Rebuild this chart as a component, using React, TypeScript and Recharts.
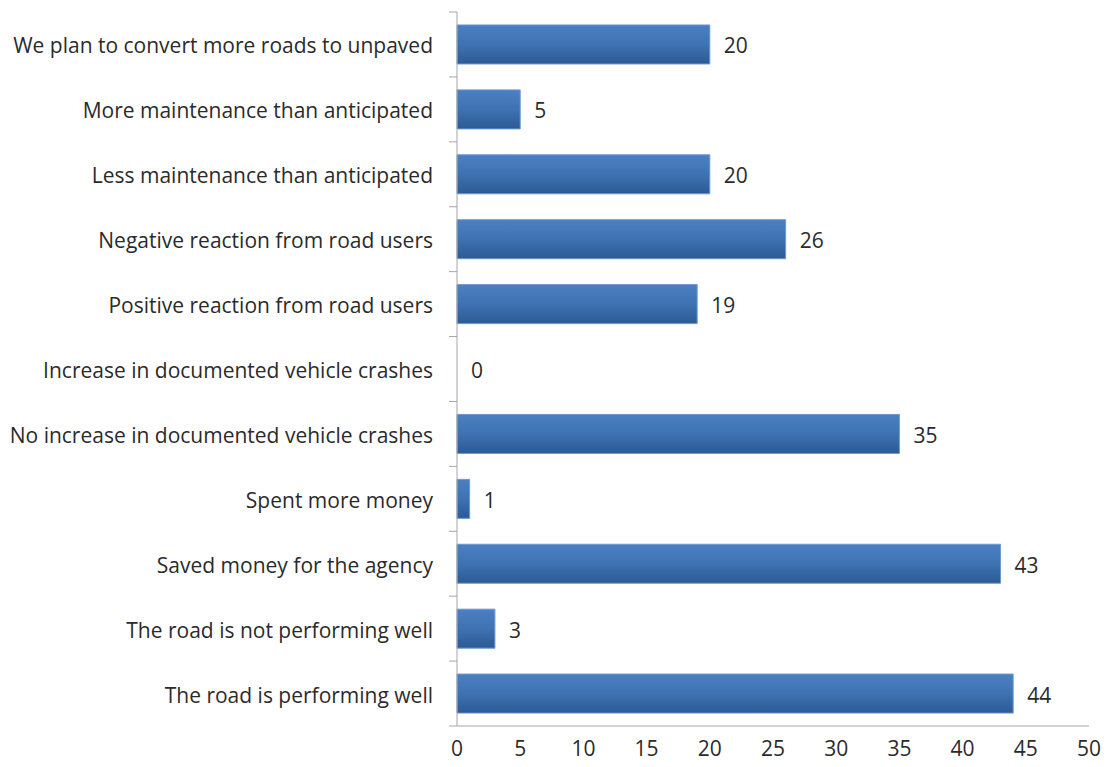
import React from "react";
import { BarChart, Bar, XAxis, YAxis, LabelList, Cell } from "recharts";

const categories = [
  "We plan to convert more roads to unpaved",
  "More maintenance than anticipated",
  "Less maintenance than anticipated",
  "Negative reaction from road users",
  "Positive reaction from road users",
  "Increase in documented vehicle crashes",
  "No increase in documented vehicle crashes",
  "Spent more money",
  "Saved money for the agency",
  "The road is not performing well",
  "The road is performing well",
];
const responses = [20, 5, 20, 26, 19, 0, 35, 1, 43, 3, 44];
const xTicks = [0, 5, 10, 15, 20, 25, 30, 35, 40, 45, 50];

const data = categories.map((name, i) => ({ name, value: responses[i] }));

const FONT = "'Open Sans', sans-serif";
const TEXT = "#2b2b2b";
const AXIS = "#a6a6a6";
const FS = 21;

const PLOT_TOP = 12;
const PLOT_BOTTOM = 726;
const BAND = (PLOT_BOTTOM - PLOT_TOP) / categories.length;

function CategoryTick({ x, y, index, payload }: { x: number; y: number; index: number; payload: { value: string } }) {
  return (
    <g>
      <line x1={x} x2={x + 8} y1={y - BAND / 2} y2={y - BAND / 2} stroke={AXIS} />
      {index === categories.length - 1 && (
        <line x1={x} x2={x + 8} y1={y + BAND / 2} y2={y + BAND / 2} stroke={AXIS} />
      )}
      <text x={x - 16} y={y} dy={9} textAnchor="end" fontSize={FS} fontFamily={FONT} fill={TEXT}>
        {payload.value}
      </text>
    </g>
  );
}

function ValueLabel(props: any) {
  const { x, y, width, height, value } = props;
  return (
    <text x={x + width + 14} y={y + height / 2} dy={9} fontSize={FS} fontFamily={FONT} fill={TEXT}>
      {value}
    </text>
  );
}

export default function App() {
  return (
    <div style={{ position: "fixed", left: 0, top: 0, width: 1108, height: 767, background: "#fff" }}>
      <BarChart
        width={1108}
        height={767}
        data={data}
        layout="vertical"
        barCategoryGap="20%"
        margin={{ top: PLOT_TOP, right: 19, left: 0, bottom: 0 }}
      >
        <defs>
          <linearGradient id="barFill" x1="0" y1="0" x2="0" y2="1">
            <stop offset="0%" stopColor="#4a80c3" />
            <stop offset="50%" stopColor="#3e72b2" />
            <stop offset="100%" stopColor="#2c5a94" />
          </linearGradient>
        </defs>
        <XAxis
          type="number"
          domain={[0, 50]}
          ticks={xTicks}
          interval={0}
          height={41}
          stroke={AXIS}
          tickLine={false}
          tickMargin={9}
          tick={{ fontSize: FS, fontFamily: FONT, fill: TEXT }}
        />
        <YAxis
          type="category"
          dataKey="name"
          width={457}
          stroke={AXIS}
          tickLine={false}
          interval={0}
          tick={(props: any) => <CategoryTick {...props} />}
        />
        <Bar
          dataKey="value"
          fill="url(#barFill)"
          stroke="#6d98cf"
          strokeWidth={1}
          minPointSize={0.01}
          isAnimationActive={false}
        >
          {data.map((d) => (
            <Cell key={d.name} stroke={d.value === 0 ? "none" : "#6d98cf"} />
          ))}
          <LabelList dataKey="value" content={<ValueLabel />} />
        </Bar>
      </BarChart>
    </div>
  );
}
